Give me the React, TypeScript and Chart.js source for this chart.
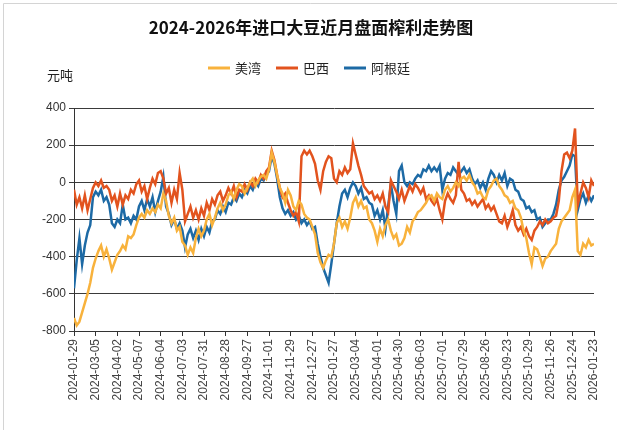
import { useEffect, useRef } from 'react';
import { Chart, registerables } from 'chart.js';

Chart.register(...registerables);

const titleText = '2024-2026年进口大豆近月盘面榨利走势图';
const unitText = '元吨';
const seriesNames = ['美湾', '巴西', '阿根廷'];
const seriesColors = ['#F8B23C', '#E2531E', '#1D6AA5'];

const dateLabels = [
  '2024-01-29', '2024-03-05', '2024-04-02', '2024-05-07', '2024-06-04', '2024-07-03',
  '2024-07-31', '2024-08-28', '2024-09-27', '2024-11-01', '2024-11-29', '2024-12-27',
  '2025-01-27', '2025-03-04', '2025-04-01', '2025-04-30', '2025-06-03', '2025-07-01',
  '2025-07-29', '2025-08-26', '2025-09-23', '2025-10-29', '2025-11-26', '2025-12-24',
  '2026-01-23',
];
const daysPerLabel = 20;
const sampleStep = 2.5;
const yMin = -800;
const yMax = 400;
const yStep = 200;

const gulf = [
  -730, -770, -750, -700, -650, -600, -540, -460, -410, -370,
  -340, -400, -360, -410, -470, -430, -390, -370, -340, -360,
  -290, -300, -280, -230, -190, -170, -190, -150, -170, -140,
  -160, -120, -140, -60, -100, -180, -220, -190, -260, -240,
  -320, -340, -390, -350, -380, -300, -250, -290, -260, -200,
  -170, -230, -190, -140, -110, -150, -120, -70, -50, -90,
  -40, -10, -20, -60, -30, 0, 20, -20, 10, 30,
  40, 20, 70, 160, 110, 40, -30, -60, -110, -40,
  -70, -130, -150, -100, -120, -170, -190, -200, -240, -280,
  -380, -430, -460, -420, -390, -400, -330, -220, -190, -240,
  -210, -250, -190, -110, -80, -130, -100, -140, -130, -200,
  -220, -260, -320, -250, -290, -230, -200, -260, -300, -280,
  -340, -330, -300, -240, -270, -210, -190, -160, -150, -130,
  -110, -80, -70, -100, -60, -80, -90, -40, -20, -50,
  -30, 0, -20, 20, 30, 10, 40, 0, -20, -60,
  -50, -80, -90, -40, -20, 10, 20, -20, -40, -70,
  -80, -110, -100, -140, -150, -190, -260, -300, -380, -440,
  -350, -360, -400, -450, -410, -400, -370, -350, -330, -250,
  -210, -190, -170, -150, -80, -40, -370, -390, -330, -350,
  -310, -340, -330,
];

const brazil = [
  -40, -120, -80, -140, -70, -150, -90, -30, 0, -20,
  10, -30, -20, -40, -100, -70, -130, -60, -120, -70,
  -90, -40, -60, -10, 10, -50, -20, -90, -30, 20,
  -10, 50, 60, 20, -60, -30, -110, -40, -90, 50,
  -40, -210, -170, -130, -190, -150, -200, -140, -180, -110,
  -150, -90, -120, -70, -50, -100, -70, -30, -60, -20,
  -80, -40, -50, -10, -40, 0, -20, 20, 0, 40,
  20, 60, 80, 170, 120, 40, -30, -80, -60, -110,
  -150, -180, -160, -210, 140, 170, 150, 170, 140, 100,
  10, -40, 60, 110, 140, 130, 20, 0, 60, 40,
  80, 50, 70, 210, 150, 90, 40, -20, -40, -60,
  -50, -90, -70, -100, -60, -130, -160, 10, -20, -50,
  -90, -40, -100, -60, -20, -50, -10, -30, -60, -30,
  -90, -70, -100, -120, -90, -150, -200, -100, -60, -90,
  -110, -70, 110, -40, -60, -100, -90, -120, -100, -130,
  -110, -90, -140, -120, -150, -130, -170, -210, -220, -180,
  -240, -200, -150, -230, -260, -240, -280, -250, -290, -310,
  -260, -240, -210, -230, -200, -220, -210, -190, -180, -100,
  60, 150, 160, 130, 170, 290, -120, -60, 0, -30,
  -80, 10, -20,
];

const argentina = [
  -570, -420, -300, -440, -340, -270, -230, -80, -50, -70,
  -40, -100, -80, -120, -220, -240, -200, -220, -120, -200,
  -190, -220, -180, -200, -130, -100, -150, -90, -130, -80,
  -160, -100, -50, 30, -130, -170, -230, -200, -250, -220,
  -260, -350, -280, -250, -300, -260, -310, -250, -290, -240,
  -270, -210, -200, -150, -170, -130, -160, -110, -120, -80,
  -100, -60, -80, -40, -60, -20, -40, 0, -20, 20,
  10, 40, 60, 140, 100, 20, -80, -140, -170, -150,
  -180, -160, -200, -180, -220, -200, -230, -210, -250, -240,
  -330, -400, -460, -500, -540, -440, -330, -220, -130, -60,
  -40, -80, -30, 0, -20, -60, -30, -90, -80, -110,
  -120, -180, -150, -200, -150, -250, -130, -10, -100, -170,
  60, 90, 0, -20, 0, -10, 20, 40, 30, 70,
  60, 90, 60, 80, 60, 90, -40, 20, 50, 40,
  80, 60, 40, 60, 80, 50, 70, 20, -10, 10,
  -30, 0, -40, 20, 60, 40, 0, 40, 10, 50,
  -20, 20, 10, -40, -50, -90, -100, -140, -130, -160,
  -150, -200, -190, -240, -220, -200, -200, -170, -120, -40,
  10, 30, 60, 90, 150, 140, -150, -90, -60, -110,
  -70, -100, -70,
];

const seriesValues = [gulf, brazil, argentina];

const toPoints = (arr: number[]) => arr.map((v, i) => ({ x: i * sampleStep, y: v }));

const CJK = '"Noto Sans CJK SC", "Noto Sans", sans-serif';
const LAT = '"Liberation Sans", Arial, sans-serif';

const headerPlugin = {
  id: 'header',
  afterDraw(chart: any) {
    const ctx = chart.ctx;
    ctx.save();
    ctx.strokeStyle = '#d4d4d4';
    ctx.lineWidth = 1;
    ctx.beginPath();
    ctx.moveTo(3.5, 430);
    ctx.lineTo(3.5, 3.5);
    ctx.lineTo(617, 3.5);
    ctx.stroke();
    ctx.fillStyle = '#111';
    ctx.font = `bold 17px ${CJK}`;
    ctx.textAlign = 'center';
    ctx.textBaseline = 'middle';
    ctx.fillText(titleText, 311, 28);
    ctx.font = `13px ${CJK}`;
    ctx.textAlign = 'left';
    const widths = seriesNames.map((n) => ctx.measureText(n).width);
    const lineLen = 22;
    const gapLineText = 5;
    const gapItems = 15;
    let total = 0;
    widths.forEach((w, i) => {
      total += lineLen + gapLineText + w + (i < widths.length - 1 ? gapItems : 0);
    });
    let x = 309 - total / 2;
    const y = 68;
    seriesNames.forEach((n, i) => {
      ctx.strokeStyle = seriesColors[i];
      ctx.lineWidth = 3;
      ctx.beginPath();
      ctx.moveTo(x, y);
      ctx.lineTo(x + lineLen, y);
      ctx.stroke();
      ctx.fillStyle = '#222';
      ctx.fillText(n, x + lineLen + gapLineText, y);
      x += lineLen + gapLineText + widths[i] + gapItems;
    });
    ctx.font = `13px ${CJK}`;
    ctx.fillStyle = '#222';
    ctx.fillText(unitText, 47, 75);
    ctx.restore();
  },
};

export default function App() {
  const ref = useRef<HTMLCanvasElement | null>(null);
  useEffect(() => {
    if (!ref.current) return;
    const chart = new Chart(ref.current, {
      type: 'line',
      data: {
        datasets: seriesNames.map((name, i) => ({
          label: name,
          data: toPoints(seriesValues[i]),
          borderColor: seriesColors[i],
          backgroundColor: seriesColors[i],
          borderWidth: 2.5,
          pointRadius: 0,
          tension: 0,
          fill: false,
        })),
      },
      options: {
        animation: false,
        responsive: false,
        maintainAspectRatio: false,
        layout: { padding: { left: 0, right: 23, top: 108, bottom: 0 } },
        plugins: {
          legend: { display: false },
          title: { display: false },
          tooltip: { enabled: false },
        },
        scales: {
          x: {
            type: 'linear',
            min: 0,
            max: (dateLabels.length - 1) * daysPerLabel,
            afterBuildTicks: (scale: any) => {
              scale.ticks = dateLabels.map((_, i) => ({ value: i * daysPerLabel }));
            },
            afterFit: (scale: any) => {
              scale.height = 99;
            },
            ticks: {
              autoSkip: false,
              minRotation: 90,
              maxRotation: 90,
              padding: 3,
              color: '#444',
              font: { family: LAT, size: 12 },
              callback: (v: any) => dateLabels[Math.round(Number(v) / daysPerLabel)] ?? '',
            },
            grid: {
              drawOnChartArea: false,
              drawTicks: true,
              tickLength: 5,
              color: '#333',
            },
            border: { display: true, color: '#333', width: 1 },
          },
          y: {
            min: yMin,
            max: yMax,
            afterFit: (scale: any) => {
              scale.width = 74;
            },
            ticks: {
              stepSize: yStep,
              padding: 3,
              color: '#333',
              font: { family: LAT, size: 12 },
            },
            grid: {
              color: '#3a3a3a',
              lineWidth: 1,
              drawTicks: true,
              tickLength: 5,
            },
            border: { display: true, color: '#333', width: 1 },
          },
        },
      },
      plugins: [headerPlugin],
    });
    return () => chart.destroy();
  }, []);
  return (
    <div style={{ position: 'absolute', left: 0, top: 0, width: 617, height: 430, background: '#fff' }}>
      <canvas ref={ref} width={617} height={430} style={{ display: 'block', width: 617, height: 430 }} />
    </div>
  );
}
